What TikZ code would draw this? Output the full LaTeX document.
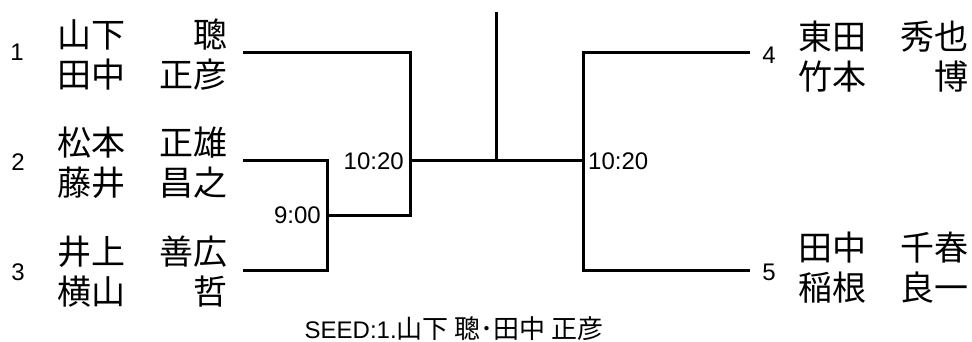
\documentclass[tikz,border=0pt]{standalone}
\usepackage{fontspec}
\setmainfont{Liberation Sans}
\newfontfamily\jp{Noto Sans CJK JP}

\tikzstyle{line} = [draw, line width=3pt]
\tikzstyle{player} = [anchor=west, inner sep=0pt, align=left, font=\jp\fontsize{34}{40}\selectfont]
\tikzstyle{seednum} = [inner sep=0pt, font=\fontsize{24}{28}\selectfont]
\tikzstyle{timelbl} = [inner sep=0pt, font=\fontsize{24}{28}\selectfont]

\begin{document}
\begin{tikzpicture}[x=1pt,y=-1pt]
		\useasboundingbox (0,0) rectangle (972,342);
		
		%line ends
		\coordinate (e1) at (243,53);
		\coordinate (e2) at (243,161);
		\coordinate (e3) at (243,270);
		\coordinate (e4) at (750,53);
		\coordinate (e5) at (750,270);
		%junctions
		\coordinate (m23) at (327,215);
		\coordinate (mleft) at (410,161);
		\coordinate (mright) at (583,161);
		\coordinate (top) at (496,12);
		\coordinate (final) at (496,161);
		
		%left bracket
		\draw[line] (e2) -| (m23) |- (e3);
		\draw[line] (e1) -| (mleft) |- (m23);
		%right bracket
		\draw[line] (e4) -| (mright) |- (e5);
		%final
		\draw[line] (mleft) -- (mright);
		\draw[line] (top) -- (final);
		
		%seeds
		\node[seednum](n1) at (17,52) {1};
		\node[seednum](n2) at (18,162) {2};
		\node[seednum](n3) at (18,272) {3};
		\node[seednum](n4) at (769,55) {4};
		\node[seednum](n5) at (769,272) {5};
		
		%players
		\node[player](pl1) at (57,55) {山下　　聰\\田中　正彦};
		\node[player](pl2) at (57,163) {松本　正雄\\藤井　昌之};
		\node[player](pl3) at (57,272) {井上　善広\\横山　　哲};
		\node[player](pl4) at (798,57) {東田　秀也\\竹本　　博};
		\node[player](pl5) at (798,268) {田中　千春\\稲根　良一};
		
		%times
		\node[timelbl,anchor=east](t23) at (321,215) {9:00};
		\node[timelbl,anchor=east](tleft) at (404,161) {10:20};
		\node[timelbl,anchor=west](tright) at (588,161) {10:20};
		
		%seed note
		\node[timelbl](note) at (454,329) {SEED:1.{\jp\fontsize{26}{28}\selectfont 山下 聰･田中 正彦}};
		\end{tikzpicture}
\end{document}
